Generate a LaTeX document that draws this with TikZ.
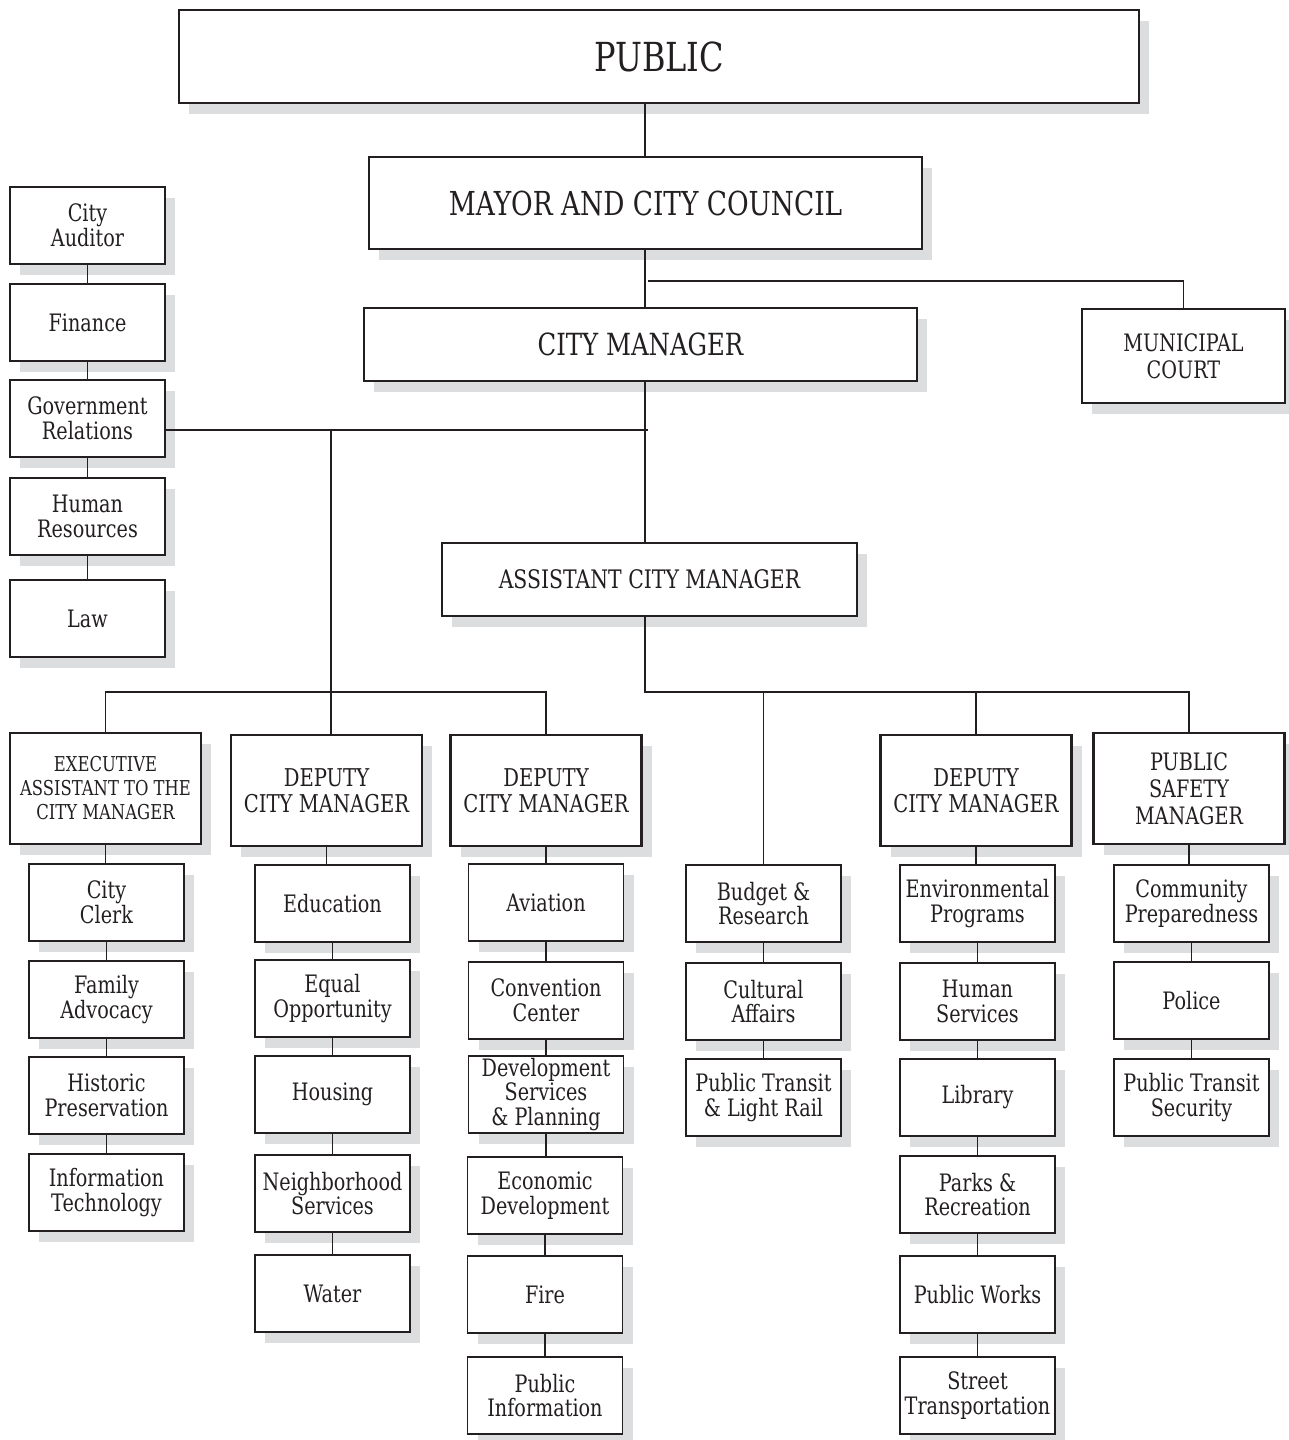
\documentclass[tikz,border=0pt]{standalone}
\usepackage{fontspec}
\setmainfont{DejaVu Serif}[FakeStretch=0.8]
\usetikzlibrary{positioning,shadows}
\definecolor{ink}{HTML}{231F20}
\definecolor{shadowgrey}{HTML}{DCDDDF}
\tikzset{
  boxshadow/.style ={general shadow={fill=shadowgrey, shadow xshift=10pt, shadow yshift=-11pt}},
  topbox/.style    ={draw=ink, fill=white, line width=2.4pt, boxshadow,
                     align=center, inner sep=2pt, text=ink},
  headbox/.style   ={topbox, minimum width=191pt, minimum height=111pt,
                     font=\fontsize{24.5}{26}\selectfont},
  unitbox/.style   ={draw=ink, fill=white, line width=1.3pt, boxshadow,
                     minimum width=155pt, minimum height=77pt,
                     align=center, inner sep=2pt, text=ink,
                     font=\fontsize{24}{24.5}\selectfont},
  link/.style      ={draw=ink, line width=1.2pt},
}

\begin{document}
\begin{tikzpicture}[x=1pt,y=-1pt]
    \useasboundingbox (0,0) rectangle (1289,1440);

    % top of the chart
    \node[topbox,minimum width=960pt,minimum height=93pt,font=\fontsize{40}{42}\selectfont] (public) at (659,56.5) {PUBLIC};
    \node[topbox,minimum width=553pt,minimum height=92pt,font=\fontsize{33}{34}\selectfont] (mayor) at (645.5,203) {MAYOR AND CITY COUNCIL};
    \node[topbox,minimum width=553pt,minimum height=73pt,font=\fontsize{30.5}{31}\selectfont] (cityman) at (640.5,344.5) {CITY MANAGER};
    \node[topbox,minimum width=203pt,minimum height=94pt,font=\fontsize{24}{27}\selectfont] (court) at (1183.5,356) {MUNICIPAL\\COURT};
    \node[topbox,minimum width=415pt,minimum height=73pt,font=\fontsize{25.5}{27}\selectfont] (asstman) at (649.5,579.5) {ASSISTANT CITY MANAGER};

    % staff offices
    \node[unitbox] (auditor) at (87.5,225.5) {City\\Auditor};
    \node[unitbox] (finance) at (87.5,322.5) {Finance};
    \node[unitbox] (govrel) at (87.5,418.5) {Government\\Relations};
    \node[unitbox] (humres) at (87.5,516.5) {Human\\Resources};
    \node[unitbox] (law) at (87.5,618.5) {Law};

    % managers
    \node[headbox,font=\fontsize{20.5}{24}\selectfont] (exec) at (105.5,788.5) {EXECUTIVE\\ASSISTANT TO THE\\CITY MANAGER};
    \node[headbox] (deputya) at (326.5,790.5) {DEPUTY\\CITY MANAGER};
    \node[headbox] (deputyb) at (546,790.5) {DEPUTY\\CITY MANAGER};
    \node[headbox] (deputyc) at (976,790.5) {DEPUTY\\CITY MANAGER};
    \node[headbox,font=\fontsize{24}{27}\selectfont] (safety) at (1189,788.5) {PUBLIC\\SAFETY\\MANAGER};

    % departments
    \node[unitbox] (clerk) at (106.5,902.5) {City\\Clerk};
    \node[unitbox] (famadv) at (106.5,999.5) {Family\\Advocacy};
    \node[unitbox] (histpres) at (106.5,1095.5) {Historic\\Preservation};
    \node[unitbox] (infotech) at (106.5,1192.5) {Information\\Technology};

    \node[unitbox] (educ) at (332.5,903.5) {Education};
    \node[unitbox] (equal) at (332.5,998.5) {Equal\\Opportunity};
    \node[unitbox] (housing) at (332.5,1094.5) {Housing};
    \node[unitbox] (neighb) at (332.5,1193.5) {Neighborhood\\Services};
    \node[unitbox] (water) at (332.5,1293.5) {Water};

    \node[unitbox] (aviation) at (546,902.5) {Aviation};
    \node[unitbox] (convctr) at (546,1000.5) {Convention\\Center};
    \node[unitbox] (devserv) at (546,1094.5) {Development\\Services\\\& Planning};
    \node[unitbox] (econdev) at (545,1195.5) {Economic\\Development};
    \node[unitbox] (fire) at (545,1294.5) {Fire};
    \node[unitbox] (pubinfo) at (545,1395.5) {Public\\Information};

    \node[unitbox] (budget) at (763.5,903.5) {Budget \&\\Research};
    \node[unitbox] (cultural) at (763.5,1001.5) {Cultural\\Affairs};
    \node[unitbox] (transit) at (763.5,1097.5) {Public Transit\\\& Light Rail};

    \node[unitbox] (environ) at (977.5,903.5) {Environmental\\Programs};
    \node[unitbox] (humserv) at (977.5,1001.5) {Human\\Services};
    \node[unitbox] (library) at (977.5,1097.5) {Library};
    \node[unitbox] (parks) at (977.5,1194.5) {Parks \&\\Recreation};
    \node[unitbox] (pubworks) at (977.5,1294.5) {Public Works};
    \node[unitbox] (street) at (977.5,1395.5) {Street\\Transportation};

    \node[unitbox] (prepared) at (1191.5,903.5) {Community\\Preparedness};
    \node[unitbox] (police) at (1191.5,1000.5) {Police};
    \node[unitbox] (transsec) at (1191.5,1097.5) {Public Transit\\Security};

    % bus points
    \coordinate (spine) at (645,0);
    \coordinate (courtbr) at (648,281);
    \coordinate (staffbus) at (648,430);
    \coordinate (leftbus) at (331,692);
    \coordinate (rightbus) at (645,692);

    % connectors
    \draw[link] (spine |- public.south) -- (spine |- mayor.north);
    \draw[link] (spine |- mayor.south) -- (spine |- cityman.north);
    \draw[link] (courtbr) -| (court.north);
    \draw[link] (spine |- cityman.south) -- (spine |- asstman.north);
    \draw[link] (govrel.east |- staffbus) -- (staffbus);
    \draw[link] (leftbus |- staffbus) -- (leftbus);
    \draw[link] (exec.north) |- (leftbus) -| (deputyb.north);
    \draw[link] (leftbus) -- (leftbus |- deputya.north);
    \draw[link] (spine |- asstman.south) -- (rightbus) -| (safety.north);
    \draw[link] (rightbus -| budget.north) -- (budget.north);
    \draw[link] (rightbus -| deputyc.north) -- (deputyc.north);

    \foreach \up/\dn in {auditor/finance,finance/govrel,govrel/humres,humres/law,
                         exec/clerk,clerk/famadv,famadv/histpres,histpres/infotech,
                         deputya/educ,educ/equal,equal/housing,housing/neighb,neighb/water,
                         deputyb/aviation,aviation/convctr,convctr/devserv,devserv/econdev,econdev/fire,fire/pubinfo,
                         budget/cultural,cultural/transit,
                         deputyc/environ,environ/humserv,humserv/library,library/parks,parks/pubworks,pubworks/street,
                         safety/prepared,prepared/police,police/transsec}
      \draw[link] (\up.south) -- (\up.south |- \dn.north);
\end{tikzpicture}
\end{document}
